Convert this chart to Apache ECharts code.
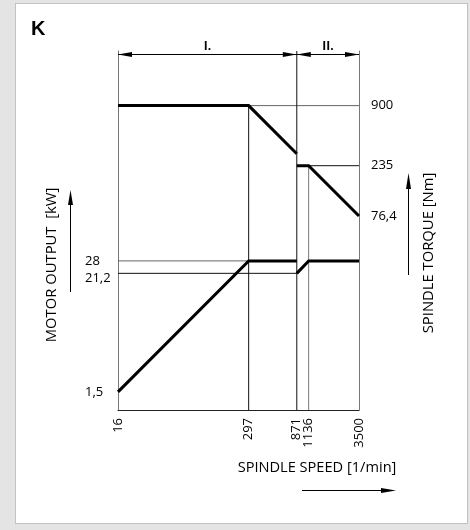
<!DOCTYPE html>
<html><head><meta charset="utf-8">
<script src="https://cdn.jsdelivr.net/npm/echarts@6/dist/echarts.min.js"></script>
<style>
html,body{margin:0;padding:0;background:#e4e4e4;}
#panel{position:absolute;left:15px;top:3px;width:451px;height:519px;background:#fff;border:1px solid #c2c2c2;}
#c{position:absolute;left:0;top:0;width:470px;height:530px;}
</style>
</head><body><div id="panel"></div><div id="c"></div>
<script>
// ---- data ----
const speedTicks = [16, 297, 871, 1136, 3500];
const speedTickLabels = ['16', '297', '871', '1136', '3500'];
const powerTicks = [1.5, 21.2, 28];
const powerTickLabels = ['1,5', '21,2', '28'];
const torqueTicks = [76.4, 235, 900];
const torqueTickLabels = ['76,4', '235', '900'];

const speedRangeI = [16, 297, 871];
const powerRangeI = [1.5, 28, 28];
const torqueRangeI = [900, 900, 307];
const speedRangeII = [871, 1136, 3500];
const powerRangeII = [21.2, 28, 28];
const torqueRangeII = [235, 235, 76.4];

const rangeLabels = ['I.', 'II.'];
const valueExtent = [1, 3050];   // shared logarithmic extent of both vertical axes
const dimLevel = 2820;            // level of the range dimension lines

// ---- helpers ----
const L = Math.log10;
const FONT = '"Open Sans", "DejaVu Sans", sans-serif';
function lookup(ticks, labels) {
  return function (v) {
    const i = ticks.findIndex(t => Math.abs(L(t) - v) < 1e-6);
    return i >= 0 ? labels[i] : '';
  };
}
function seg(name, xs, ys, yIdx, width, color) {
  return {
    type: 'line', name: name, yAxisIndex: yIdx,
    data: xs.map((x, i) => [L(x), L(ys[i])]),
    symbol: 'none', silent: true, animation: false,
    lineStyle: { width: width, color: color, cap: 'butt', join: 'miter' },
    z: width > 1 ? 5 : 2
  };
}
const powerFmt = lookup(powerTicks, powerTickLabels);

const series = [
  seg('ref 900', [speedTicks[0], speedTicks[4]], [torqueTicks[2], torqueTicks[2]], 1, 1, '#666'),
  seg('ref 235', [speedTicks[2], speedTicks[4]], [torqueTicks[1], torqueTicks[1]], 1, 1, '#111'),
  seg('ref 28', [speedTicks[0], speedTicks[1]], [powerTicks[2], powerTicks[2]], 0, 1, '#666'),
  seg('ref 21.2', [speedTicks[0], speedTicks[2]], [powerTicks[1], powerTicks[1]], 0, 1, '#111'),
  seg('ref 297', [speedTicks[1], speedTicks[1]], [valueExtent[0], torqueTicks[2]], 1, 1, '#111'),
  seg('ref 1136', [speedTicks[3], speedTicks[3]], [valueExtent[0], torqueTicks[1]], 1, 1, '#777'),
  Object.assign(seg('ref 871', [speedTicks[2], speedTicks[2]], valueExtent, 1, 1, '#111'), {
    markLine: {
      silent: true, animation: false,
      symbol: ['triangle', 'triangle'],
      symbolSize: [5, 14],
      symbolOffset: [[0, 7], [0, 7]],
      lineStyle: { color: '#000', width: 1, type: 'solid' },
      label: { show: true, position: 'insideMiddleTop', distance: 2, color: '#000',
               fontFamily: FONT, fontSize: 12, fontWeight: 'bold' },
      emphasis: { disabled: true },
      data: [
        [{ coord: [L(speedTicks[0]), L(dimLevel)], label: { formatter: rangeLabels[0] } },
         { coord: [L(speedTicks[2]), L(dimLevel)] }],
        [{ coord: [L(speedTicks[2]), L(dimLevel)], label: { formatter: rangeLabels[1] } },
         { coord: [L(speedTicks[4]), L(dimLevel)] }]
      ]
    }
  }),
  seg('Motor output I', speedRangeI, powerRangeI, 0, 3, '#000'),
  seg('Motor output II', speedRangeII, powerRangeII, 0, 3, '#000'),
  seg('Spindle torque I', speedRangeI, torqueRangeI, 1, 3, '#000'),
  seg('Spindle torque II', speedRangeII, torqueRangeII, 1, 3, '#000')
];

const chart = echarts.init(document.getElementById('c'), null, { renderer: 'canvas' });
chart.setOption({
  backgroundColor: 'transparent',
  animation: false,
  grid: { left: 118, right: 111, top: 51, bottom: 120 },
  xAxis: {
    type: 'value', min: L(speedTicks[0]), max: L(speedTicks[4]),
    axisLine: { show: true, onZero: false, lineStyle: { color: '#222', width: 1 } },
    axisTick: { show: false }, splitLine: { show: false },
    axisLabel: {
      customValues: speedTicks.map(L), rotate: 90, margin: 8,
      color: '#000', fontFamily: FONT, fontSize: 13,
      formatter: lookup(speedTicks, speedTickLabels)
    }
  },
  yAxis: [
    {
      type: 'value', position: 'left', min: L(valueExtent[0]), max: L(valueExtent[1]),
      axisLine: { show: true, onZero: false, lineStyle: { color: '#777', width: 1 } },
      axisTick: { show: false }, splitLine: { show: false },
      axisLabel: {
        customValues: powerTicks.map(L), align: 'left', margin: 33,
        color: '#000', fontFamily: FONT, fontSize: 13,
        formatter: function (v) {
          const s = powerFmt(v);
          return s === powerTickLabels[1] ? '{lo|' + s + '}' : s;
        },
        rich: { lo: { padding: [10, 0, 0, 0], fontFamily: FONT, fontSize: 13, color: '#000' } }
      }
    },
    {
      type: 'value', position: 'right', min: L(valueExtent[0]), max: L(valueExtent[1]),
      axisLine: { show: true, onZero: false, lineStyle: { color: '#777', width: 1 } },
      axisTick: { show: false }, splitLine: { show: false },
      axisLabel: {
        customValues: torqueTicks.map(L), align: 'left', margin: 12,
        color: '#000', fontFamily: FONT, fontSize: 13,
        formatter: lookup(torqueTicks, torqueTickLabels)
      }
    }
  ],
  series: series,
  graphic: [
    { type: 'text', x: 31, y: 19, silent: true,
      style: { text: 'K', font: 'bold 20px "Liberation Sans", Arial, sans-serif', fill: '#000' } },
    { type: 'text', x: 52, y: 265, rotation: Math.PI / 2, silent: true,
      style: { text: 'MOTOR OUTPUT  [kW]', align: 'center', verticalAlign: 'middle',
               font: '14.8px ' + FONT, fill: '#000' } },
    { type: 'text', x: 429, y: 253, rotation: Math.PI / 2, silent: true,
      style: { text: 'SPINDLE TORQUE [Nm]', align: 'center', verticalAlign: 'middle',
               font: '14.8px ' + FONT, fill: '#000' } },
    { type: 'text', x: 317, y: 468, silent: true,
      style: { text: 'SPINDLE SPEED [1/min]', align: 'center', verticalAlign: 'middle',
               font: '14.6px ' + FONT, fill: '#000' } },
    { type: 'line', silent: true, shape: { x1: 70.5, y1: 292, x2: 70.5, y2: 200 }, style: { stroke: '#000', lineWidth: 1 } },
    { type: 'polygon', silent: true, shape: { points: [[70.5, 190], [68, 205], [73, 205]] }, style: { fill: '#000' } },
    { type: 'line', silent: true, shape: { x1: 408.5, y1: 275, x2: 408.5, y2: 183 }, style: { stroke: '#000', lineWidth: 1 } },
    { type: 'polygon', silent: true, shape: { points: [[408.5, 173], [406, 189], [411, 189]] }, style: { fill: '#000' } },
    { type: 'line', silent: true, shape: { x1: 302, y1: 490.5, x2: 386, y2: 490.5 }, style: { stroke: '#000', lineWidth: 1 } },
    { type: 'polygon', silent: true, shape: { points: [[396, 490.5], [381, 488], [381, 493]] }, style: { fill: '#000' } }
  ]
});
</script>
</body></html>
